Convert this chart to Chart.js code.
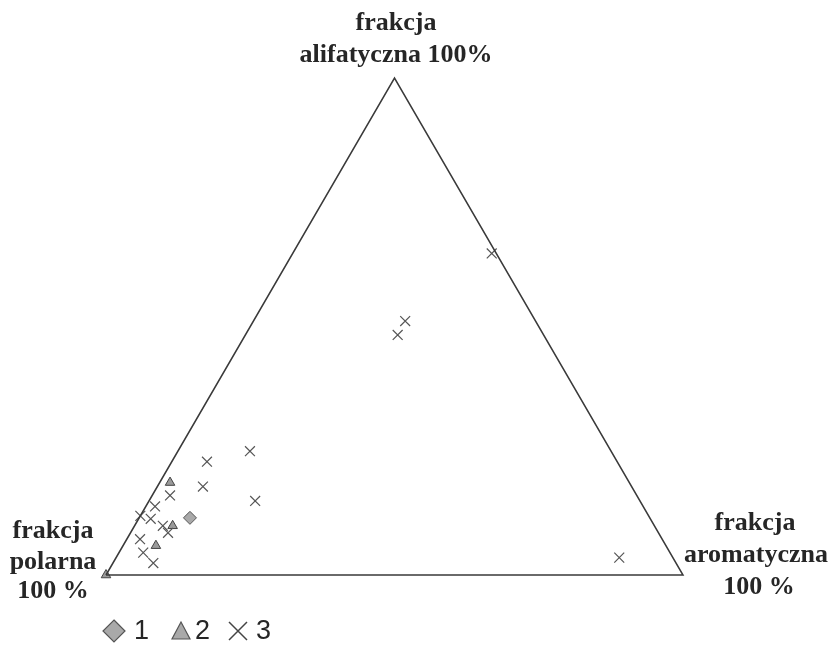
<!DOCTYPE html>
<html>
<head>
<meta charset="utf-8">
<script src="https://cdn.jsdelivr.net/npm/chart.js@4"></script>
<style>
  body { margin: 0; background: #fff; }
  #wrap { width: 831px; height: 645px; position: relative; }
</style>
</head>
<body>
<div id="wrap"><canvas id="ternaryChart"></canvas></div>
<script>
// ternary composition in % (aliphatic / aromatic / polar)
var s1Aliphatic = [11.5];
var s1Aromatic  = [8.8];
var s1Polar     = [79.7];

var s2Aliphatic = [18.6, 9.9, 5.9, 0];
var s2Aromatic  = [1.8, 6.6, 5.7, 0];
var s2Polar     = [79.6, 83.5, 88.4, 100];

var s3Aliphatic = [24.9, 22.8, 17.8, 16.0, 14.9, 13.8, 11.9, 11.3, 9.9, 8.5, 7.2, 4.5, 2.4, 64.7, 51.1, 48.3, 3.5];
var s3Aromatic  = [12.5, 6.1, 7.9, 3.1, 18.4, 1.6, 0.0, 2.1, 4.9, 6.5, 2.3, 4.2, 7.0, 34.5, 26.3, 26.4, 87.2];
var s3Polar     = [62.6, 71.1, 74.3, 80.9, 66.7, 84.6, 88.1, 86.6, 85.2, 85.0, 90.5, 91.3, 90.6, 0.8, 22.6, 25.3, 9.3];

// corners of the diagram: polar 100%, aromatic 100%, aliphatic 100%
var cornerAliphatic = [0, 0, 100, 0];
var cornerAromatic  = [0, 100, 0, 0];
var cornerPolar     = [100, 0, 0, 100];

var seriesNames = ['1', '2', '3'];

function toXY(al, ar, po) {
    let pts = [];
    for (let i = 0; i < al.length; i++) {
        let sum = al[i] + ar[i] + po[i];
        let a = al[i] / sum * 100, r = ar[i] / sum * 100;
        pts.push({x: r + a / 2, y: a * Math.sqrt(3) / 2});
    }
    return pts;
}

var labelFont = 'bold 26px "Liberation Serif", "Times New Roman", serif';

var ternaryLabels = {
    id: 'ternaryLabels',
    afterDraw: function(chart) {
        let ctx = chart.ctx;
        ctx.save();
        ctx.fillStyle = '#262626';
        ctx.font = labelFont;
        ctx.textAlign = 'center';
        ctx.textBaseline = 'alphabetic';
        // top
        ctx.fillText('frakcja', 396, 30);
        ctx.fillText('alifatyczna 100%', 396, 62);
        // left
        ctx.fillText('frakcja', 53, 538);
        ctx.fillText('polarna', 53, 569);
        ctx.fillText('100 %', 53, 598);
        // right
        ctx.fillText('frakcja', 755, 530);
        ctx.fillText('aromatyczna', 756, 562);
        ctx.fillText('100 %', 759, 594);

        // legend
        let ly = 631;
        ctx.fillStyle = '#a9a9a9'; ctx.strokeStyle = '#555';
        ctx.lineWidth = 1.2;
        ctx.beginPath();
        ctx.moveTo(114, ly - 11); ctx.lineTo(125, ly); ctx.lineTo(114, ly + 11); ctx.lineTo(103, ly); ctx.closePath();
        ctx.fill(); ctx.stroke();

        ctx.beginPath();
        ctx.moveTo(181, ly - 9); ctx.lineTo(190, ly + 8); ctx.lineTo(172, ly + 8); ctx.closePath();
        ctx.fill(); ctx.stroke();

        ctx.strokeStyle = '#444';
        ctx.lineWidth = 1.5;
        ctx.beginPath();
        ctx.moveTo(229, ly - 9); ctx.lineTo(247, ly + 9);
        ctx.moveTo(247, ly - 9); ctx.lineTo(229, ly + 9);
        ctx.stroke();

        ctx.fillStyle = '#262626';
        ctx.font = '27px "Liberation Sans", Arial, sans-serif';
        ctx.textAlign = 'left';
        ctx.textBaseline = 'middle';
        ctx.fillText(seriesNames[0], 134, ly + 1);
        ctx.fillText(seriesNames[1], 195, ly + 1);
        ctx.fillText(seriesNames[2], 256, ly + 1);
        ctx.restore();
    }
};

var ctx = document.getElementById('ternaryChart');

var chart = new Chart(ctx, {
  type: 'scatter',
  data: {
    datasets: [{
        label: 'frame',
        data: toXY(cornerAliphatic, cornerAromatic, cornerPolar),
        showLine: true,
        borderColor: '#3a3a3a',
        borderWidth: 1.5,
        pointRadius: 0,
        clip: false
    },{
        label: seriesNames[2],
        data: toXY(s3Aliphatic, s3Aromatic, s3Polar),
        pointStyle: 'crossRot',
        pointRadius: 7,
        borderColor: '#555555',
        borderWidth: 1.2,
        clip: false
    },{
        label: seriesNames[1],
        data: toXY(s2Aliphatic, s2Aromatic, s2Polar),
        pointStyle: 'triangle',
        pointRadius: 5.5,
        backgroundColor: '#9a9a9a',
        borderColor: '#444444',
        borderWidth: 1,
        clip: false
    },{
        label: seriesNames[0],
        data: toXY(s1Aliphatic, s1Aromatic, s1Polar),
        pointStyle: 'rectRot',
        pointRadius: 6.5,
        backgroundColor: '#a9a9a9',
        borderColor: '#555555',
        borderWidth: 1,
        clip: false
    }]
  },
  options: {
    responsive: true,
    maintainAspectRatio: false,
    animation: false,
    layout: {
        padding: {left: 106, right: 148, top: 78, bottom: 70}
    },
    plugins: {
        legend: { display: false },
        tooltip: { enabled: false }
    },
    scales: {
        x: { type: 'linear', min: 0, max: 100, display: false },
        y: { type: 'linear', min: 0, max: 50 * Math.sqrt(3), display: false }
    }
  },
  plugins: [ternaryLabels]
});
</script>
</body>
</html>
